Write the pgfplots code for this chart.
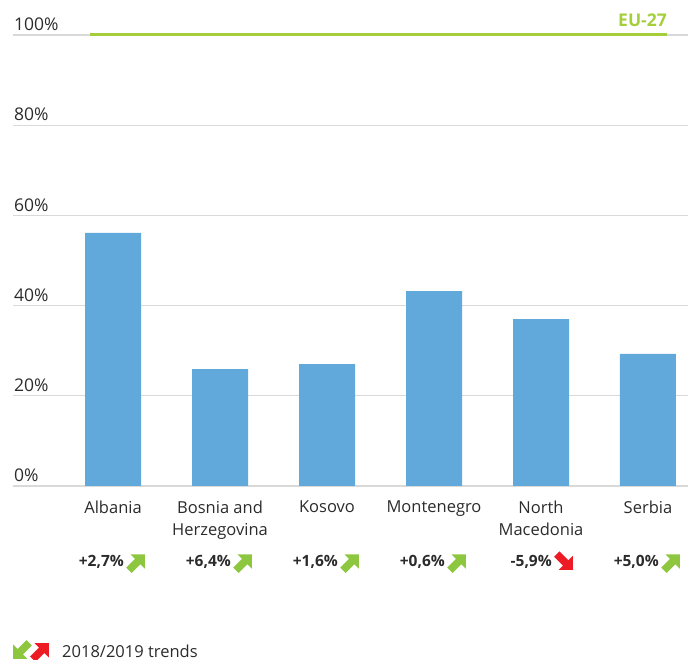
\documentclass[border=0pt]{standalone}
\usepackage{pgfplots}
\pgfplotsset{compat=1.18}
\usepackage{fontspec}
\setmainfont{Open Sans}
\definecolor{barblue}{HTML}{62A9DB}
\definecolor{eugreen}{HTML}{A4CF3A}
\definecolor{arrgreen}{HTML}{8DC63F}
\definecolor{arrred}{HTML}{ED1C24}
\definecolor{gridgray}{HTML}{D9D9D9}
\definecolor{txt}{HTML}{2B2B2B}
\tikzset{
  trendarrow/.pic={
    \fill (-11.5pt,-3.8pt) -- (1pt,-3.8pt) -- (1pt,-10pt) -- (11pt,0pt) -- (1pt,10pt) -- (1pt,3.8pt) -- (-11.5pt,3.8pt) -- cycle;
  }
}
\begin{document}
\begin{tikzpicture}
\path[use as bounding box] (0pt,0pt) rectangle (688pt,660pt);
\begin{axis}[
  at={(13pt,174pt)}, anchor=south west,
  scale only axis, width=675pt, height=451pt,
  xmin=-0.935, xmax=5.374, ymin=0, ymax=100,
  clip=false,
  axis line style={draw=none},
  major tick length=0pt,
  ytick={0,20,40,60,80,100},
  yticklabels={0\%,20\%,40\%,60\%,80\%,100\%},
  yticklabel style={anchor=south west, inner sep=0pt, xshift=1pt, yshift=4pt, font=\fontsize{17.5}{20}\selectfont, text=txt},
  ymajorgrids, grid style={gridgray, line width=1.3pt},
  xtick={0,1,2,3,4,5},
  xticklabels={Albania,{Bosnia and\\Herzegovina},Kosovo,Montenegro,{North\\Macedonia},Serbia},
  xticklabel style={align=center, anchor=north, inner sep=0pt, yshift=-15pt, font=\fontsize{16.5}{22}\selectfont, text=txt},
]
\addplot[ybar, bar width=56pt, fill=barblue, draw=none] coordinates {
  (0,56.1) (1,25.9) (2,27.0) (3,43.2) (4,37.0) (5,29.3)
};
\addplot[eugreen, line width=3pt, forget plot] coordinates {(-0.215,100) (5.178,100)};
\node[anchor=south east, inner sep=0pt, yshift=8pt, text=eugreen, font=\fontsize{17.5}{20}\selectfont\bfseries] at (axis cs:5.178,100) {EU-27};
\foreach \k/\t in {0/+2{,}7\%,1/+6{,}4\%,2/+1{,}6\%,3/+0{,}6\%,4/-5{,}9\%,5/+5{,}0\%}{
  \edef\tmp{\noexpand\node[anchor=east, inner sep=0pt, xshift=11pt, text=txt, font=\noexpand\fontsize{15.5}{18}\noexpand\selectfont\noexpand\bfseries] at (axis cs:\k,-16.9) {\t};}
  \tmp
}
\coordinate (t0) at (axis cs:0,-16.9);
\coordinate (t1) at (axis cs:1,-16.9);
\coordinate (t2) at (axis cs:2,-16.9);
\coordinate (t3) at (axis cs:3,-16.9);
\coordinate (t4) at (axis cs:4,-16.9);
\coordinate (t5) at (axis cs:5,-16.9);
\end{axis}
\foreach \c in {t0,t1,t2,t3,t5}{
  \pic[arrgreen, rotate=45] at ([xshift=24pt]\c) {trendarrow};
}
\pic[arrred, rotate=-45] at ([xshift=24pt]t4) {trendarrow};
\pic[arrgreen, rotate=225] at (21pt,9pt) {trendarrow};
\pic[arrred, rotate=45] at (41pt,9pt) {trendarrow};
\node[anchor=west, inner sep=0pt, text=txt, font=\fontsize{16.5}{18}\selectfont] at (62pt,9pt) {2018/2019 trends};
\end{tikzpicture}
\end{document}
